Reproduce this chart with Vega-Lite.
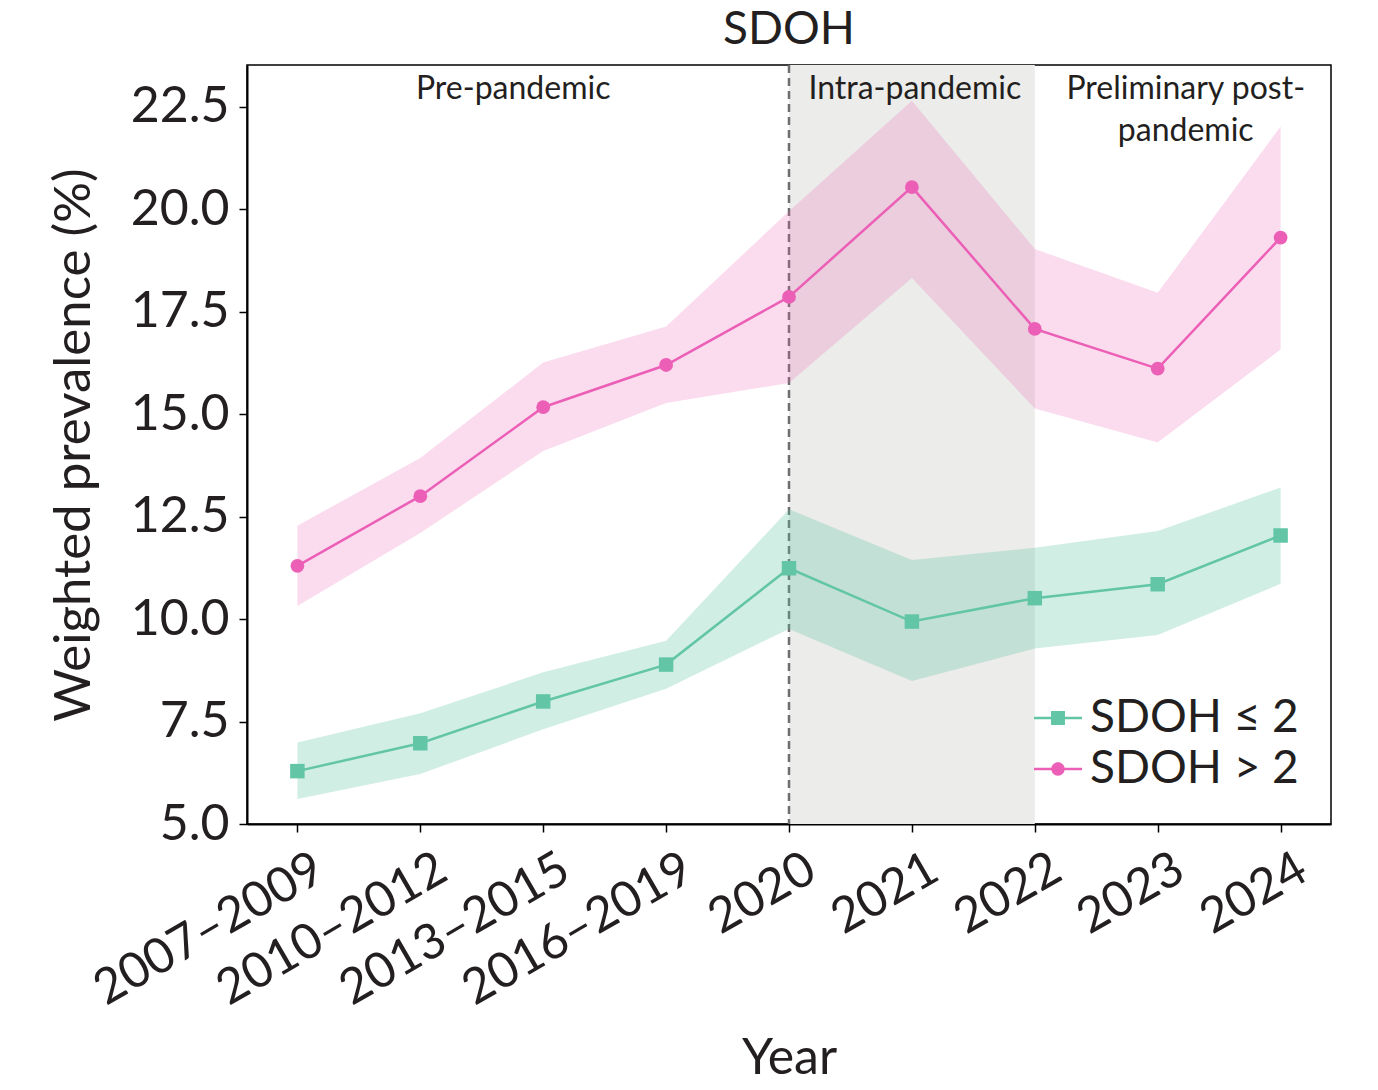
{
  "$schema": "https://vega.github.io/schema/vega-lite/v6.json",
  "description": "Weighted prevalence by SDOH group, 2007-2024",
  "width": 1084,
  "height": 759,
  "autosize": "none",
  "padding": {"left": 247, "top": 65, "right": 47, "bottom": 266},
  "background": "white",
  "config": {
    "font": "Lato",
    "view": {"stroke": "black", "strokeWidth": 1.5},
    "axis": {
      "labelFont": "Lato",
      "titleFont": "Lato",
      "labelColor": "#231f20",
      "titleColor": "#231f20",
      "domainColor": "black",
      "domainWidth": 2,
      "tickColor": "black",
      "tickWidth": 1.5,
      "tickSize": 8,
      "grid": false
    },
    "legend": {"labelFont": "Lato", "labelColor": "#231f20"}
  },
  "title": {
    "text": "SDOH",
    "fontSize": 46,
    "fontWeight": "normal",
    "color": "#231f20",
    "anchor": "middle",
    "offset": 10
  },
  "datasets": {
    "series": [
      {"period": "2007–2009", "group": "SDOH ≤ 2", "value": 6.29, "lower": 5.61, "upper": 6.99},
      {"period": "2010–2012", "group": "SDOH ≤ 2", "value": 6.97, "lower": 6.22, "upper": 7.7},
      {"period": "2013–2015", "group": "SDOH ≤ 2", "value": 7.99, "lower": 7.31, "upper": 8.7},
      {"period": "2016–2019", "group": "SDOH ≤ 2", "value": 8.89, "lower": 8.3, "upper": 9.47},
      {"period": "2020", "group": "SDOH ≤ 2", "value": 11.24, "lower": 9.76, "upper": 12.68},
      {"period": "2021", "group": "SDOH ≤ 2", "value": 9.94, "lower": 8.49, "upper": 11.44},
      {"period": "2022", "group": "SDOH ≤ 2", "value": 10.51, "lower": 9.28, "upper": 11.74},
      {"period": "2023", "group": "SDOH ≤ 2", "value": 10.85, "lower": 9.61, "upper": 12.15},
      {"period": "2024", "group": "SDOH ≤ 2", "value": 12.04, "lower": 10.86, "upper": 13.21},
      {"period": "2007–2009", "group": "SDOH > 2", "value": 11.3, "lower": 10.32, "upper": 12.28},
      {"period": "2010–2012", "group": "SDOH > 2", "value": 13.0, "lower": 12.1, "upper": 13.93},
      {"period": "2013–2015", "group": "SDOH > 2", "value": 15.17, "lower": 14.1, "upper": 16.26},
      {"period": "2016–2019", "group": "SDOH > 2", "value": 16.2, "lower": 15.27, "upper": 17.14},
      {"period": "2020", "group": "SDOH > 2", "value": 17.86, "lower": 15.76, "upper": 19.95},
      {"period": "2021", "group": "SDOH > 2", "value": 20.54, "lower": 18.32, "upper": 22.65},
      {"period": "2022", "group": "SDOH > 2", "value": 17.08, "lower": 15.14, "upper": 19.03},
      {"period": "2023", "group": "SDOH > 2", "value": 16.11, "lower": 14.31, "upper": 17.96},
      {"period": "2024", "group": "SDOH > 2", "value": 19.31, "lower": 16.58, "upper": 22.02}
    ]
  },
  "encoding": {
    "x": {
      "field": "period",
      "type": "ordinal",
      "sort": ["2007–2009", "2010–2012", "2013–2015", "2016–2019", "2020", "2021", "2022", "2023", "2024"],
      "scale": {"type": "point", "padding": 0.41},
      "axis": {
        "title": "Year",
        "titleFontSize": 50,
        "titleFontWeight": "normal",
        "titlePadding": 19,
        "labelFontSize": 49,
        "labelLimit": 600,
        "labelAngle": -30,
        "labelAlign": "right",
        "labelBaseline": "top",
        "labelPadding": 12,
        "labelOffset": 10
      }
    }
  },
  "layer": [
    {
      "data": {"name": "series"},
      "transform": [{"filter": "false"}],
      "mark": {"type": "point", "filled": true, "opacity": 1},
      "encoding": {
        "y": {"field": "value", "type": "quantitative"},
        "color": {
          "field": "group",
          "type": "nominal",
          "scale": {"domain": ["SDOH ≤ 2", "SDOH > 2"], "range": ["#62c6a6", "#ec5fb6"]},
          "legend": {
            "title": null,
            "orient": "bottom-right",
            "offset": 32,
            "labelFontSize": 46,
            "labelLimit": 400,
            "symbolSize": 2304,
            "symbolOpacity": 1,
            "symbolStrokeWidth": 0,
            "rowPadding": 4,
            "labelOffset": 8,
            "padding": 0
          }
        },
        "shape": {
          "field": "group",
          "type": "nominal",
          "scale": {
            "domain": ["SDOH ≤ 2", "SDOH > 2"],
            "range": [
              "M-1,-0.052H-0.28V0.052H-1ZM0.28,-0.052H1V0.052H0.28ZM-0.29,-0.29H0.29V0.29H-0.29Z",
              "M-1,-0.052H-0.27V0.052H-1ZM0.27,-0.052H1V0.052H0.27ZM0.28,0A0.28,0.28 0 1,1 -0.28,0A0.28,0.28 0 1,1 0.28,0Z"
            ]
          }
        }
      }
    },
    {
      "data": {"values": [{"start": "2020", "end": "2022"}]},
      "mark": {"type": "rect", "color": "#ececea"},
      "encoding": {
        "x": {"field": "start", "type": "ordinal"},
        "x2": {"field": "end"}
      }
    },
    {
      "data": {"values": [{"period": "2020"}]},
      "mark": {"type": "rule", "color": "#6e6e6e", "strokeWidth": 2.5, "strokeDash": [8, 5]},
      "encoding": {"x": {"field": "period", "type": "ordinal"}}
    },
    {
      "data": {"name": "series"},
      "transform": [{"filter": "datum.group === 'SDOH ≤ 2'"}],
      "mark": {"type": "area", "color": "#62c6a6", "opacity": 0.29},
      "encoding": {
        "y": {
          "field": "lower",
          "type": "quantitative",
          "scale": {"domain": [5, 23.52], "nice": false, "zero": false},
          "axis": {
            "title": "Weighted prevalence (%)",
            "titleFontSize": 51,
            "titleFontWeight": "normal",
            "titlePadding": 30,
            "labelFontSize": 50,
            "labelPadding": 10,
            "values": [5, 7.5, 10, 12.5, 15, 17.5, 20, 22.5],
            "format": ".1f"
          }
        },
        "y2": {"field": "upper"}
      }
    },
    {
      "data": {"name": "series"},
      "transform": [{"filter": "datum.group === 'SDOH > 2'"}],
      "mark": {"type": "area", "color": "#ec5fb6", "opacity": 0.22},
      "encoding": {
        "y": {"field": "lower", "type": "quantitative"},
        "y2": {"field": "upper"}
      }
    },
    {
      "data": {"name": "series"},
      "transform": [{"filter": "datum.group === 'SDOH ≤ 2'"}],
      "mark": {"type": "line", "color": "#62c6a6", "strokeWidth": 2.5},
      "encoding": {"y": {"field": "value", "type": "quantitative"}}
    },
    {
      "data": {"name": "series"},
      "transform": [{"filter": "datum.group === 'SDOH > 2'"}],
      "mark": {"type": "line", "color": "#ec5fb6", "strokeWidth": 2.5},
      "encoding": {"y": {"field": "value", "type": "quantitative"}}
    },
    {
      "data": {"name": "series"},
      "transform": [{"filter": "datum.group === 'SDOH ≤ 2'"}],
      "mark": {"type": "point", "shape": "square", "filled": true, "opacity": 1, "size": 210, "color": "#62c6a6"},
      "encoding": {"y": {"field": "value", "type": "quantitative"}}
    },
    {
      "data": {"name": "series"},
      "transform": [{"filter": "datum.group === 'SDOH > 2'"}],
      "mark": {"type": "point", "shape": "circle", "filled": true, "opacity": 1, "size": 190, "color": "#ec5fb6"},
      "encoding": {"y": {"field": "value", "type": "quantitative"}}
    },
    {
      "data": {"values": [{"label": "Pre-pandemic", "at": "2013–2015", "y": 22.94}]},
      "mark": {"type": "text", "fontSize": 32, "color": "#231f20", "baseline": "middle", "dx": -30},
      "encoding": {
        "x": {"field": "at", "type": "ordinal"},
        "y": {"field": "y", "type": "quantitative"},
        "text": {"field": "label"}
      }
    },
    {
      "data": {"values": [{"label": "Intra-pandemic", "at": "2021", "y": 22.94}]},
      "mark": {"type": "text", "fontSize": 32, "color": "#231f20", "baseline": "middle", "dx": 3},
      "encoding": {
        "x": {"field": "at", "type": "ordinal"},
        "y": {"field": "y", "type": "quantitative"},
        "text": {"field": "label"}
      }
    },
    {
      "data": {"values": [{"label": "Preliminary post-\npandemic", "at": "2023", "y": 22.94}]},
      "mark": {"type": "text", "fontSize": 32, "color": "#231f20", "baseline": "middle", "dx": 28, "lineBreak": "\n", "lineHeight": 42},
      "encoding": {
        "x": {"field": "at", "type": "ordinal"},
        "y": {"field": "y", "type": "quantitative"},
        "text": {"field": "label"}
      }
    }
  ]
}
